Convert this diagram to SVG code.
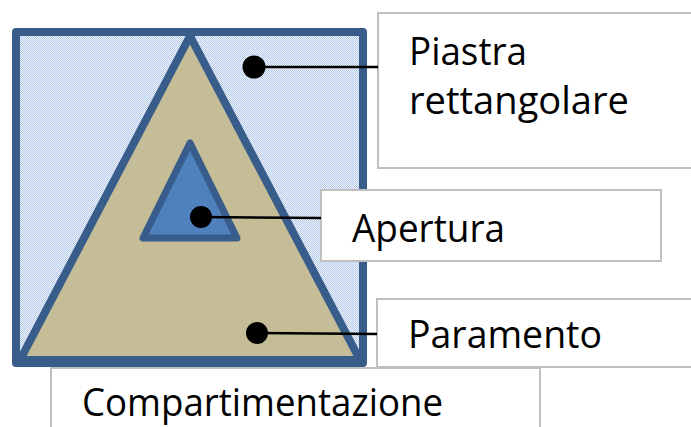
<svg xmlns="http://www.w3.org/2000/svg" width="691" height="427" viewBox="0 0 691 427">
<style>
.box{fill:#ffffff;stroke:#bfbfbf;stroke-width:2}
.lbl{font-family:"Open Sans","Liberation Sans",sans-serif;font-size:38px;fill:#000000}
.lead{stroke:#000000;stroke-width:2.5;fill:none}
.dot{fill:#000000}
.edge{stroke:#385d8a;stroke-linejoin:round}
</style>
<defs>
<pattern id="dots" width="2" height="2" patternUnits="userSpaceOnUse">
<rect width="2" height="2" fill="#f0f4fb"/>
<rect x="0" y="0" width="1" height="1" fill="#b3c8ea"/>
<rect x="1" y="1" width="1" height="1" fill="#b3c8ea"/>
</pattern>
</defs>
<g id="piastra">
<rect x="16" y="32" width="347" height="331" fill="url(#dots)" class="edge" stroke-width="8"/>
</g>
<g id="paramento">
<polygon points="190,36 20,360 360,360" fill="#c4bd97" class="edge" stroke-width="8"/>
</g>
<g id="apertura">
<polygon points="190,143 143,238 237,238" fill="#4f81bd" class="edge" stroke-width="7"/>
</g>
<g id="box-piastra">
<rect x="378" y="13" width="330" height="155" class="box"/>
<text class="lbl" x="409" y="65" textLength="118" lengthAdjust="spacingAndGlyphs">Piastra</text>
<text class="lbl" x="409" y="114" textLength="220" lengthAdjust="spacingAndGlyphs">rettangolare</text>
</g>
<g id="box-apertura">
<rect x="321" y="190" width="340" height="71" class="box"/>
<text class="lbl" x="352" y="242" textLength="153" lengthAdjust="spacingAndGlyphs">Apertura</text>
</g>
<g id="box-paramento">
<rect x="377" y="299" width="330" height="68" class="box"/>
<text class="lbl" x="408" y="348" textLength="194" lengthAdjust="spacingAndGlyphs">Paramento</text>
</g>
<g id="box-compartimentazione">
<rect x="51" y="368" width="489" height="80" class="box"/>
<text class="lbl" x="82" y="416" textLength="361" lengthAdjust="spacingAndGlyphs">Compartimentazione</text>
</g>
<g id="connectors">
<line class="lead" x1="254" y1="67" x2="378" y2="67"/>
<circle class="dot" cx="254" cy="67" r="11.5"/>
<line class="lead" x1="201" y1="217" x2="321" y2="218"/>
<circle class="dot" cx="201" cy="217" r="11"/>
<line class="lead" x1="257" y1="333" x2="377" y2="334"/>
<circle class="dot" cx="257" cy="333" r="11"/>
</g>
</svg>
